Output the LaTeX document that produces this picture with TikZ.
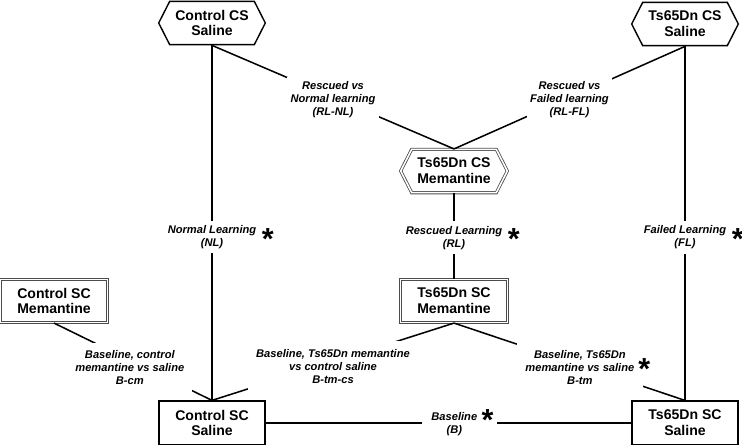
\documentclass[tikz,border=0pt]{standalone}
\usepackage{fontspec}
\setmainfont{Liberation Sans}
\usetikzlibrary{positioning, shapes.symbols}

\tikzset{
  grp/.style={align=center, font=\fontsize{12}{13.5}\selectfont\bfseries,
    minimum width=3.2cm, minimum height=1.3cm, inner sep=1pt},
  hexbox/.style={grp, shape=signal, signal to=east and west,
    signal pointer angle=126, draw, line width=1.2pt},
  hexdbl/.style={grp, shape=signal, signal to=east and west,
    signal pointer angle=126, draw=black!70, line width=0.7pt,
    double, double distance=1.3pt},
  plainbox/.style={grp, rectangle, draw, line width=1.6pt},
  dblbox/.style={grp, rectangle, draw=black!70, line width=0.7pt,
    double, double distance=1.3pt},
  conn/.style={line width=1.3pt},
  lbl/.style={fill=white, align=center, inner xsep=3pt, inner ysep=4pt,
    font=\fontsize{9.5}{11}\selectfont\bfseries\itshape},
  widelbl/.style={lbl, inner sep=7pt},
  sigmark/.style={font=\fontsize{26}{26}\selectfont\bfseries, inner sep=0pt,
    yshift=-1.5pt}
}

\begin{document}
\begin{tikzpicture}[x=0.03cm, y=-0.03cm]
  \useasboundingbox (0,0) rectangle (742,445);
  % conditioned groups
  \node[hexbox] (ctrlCS) at (212,23) {Control CS\\Saline};
  \node[hexbox] (tsCS) at (685,24) {Ts65Dn CS\\Saline};
  \node[hexdbl] (tsCSmem) at (454,171) {Ts65Dn CS\\Memantine};
  % memantine controls
  \node[dblbox] (ctrlSCmem) at (54,301) {Control SC\\Memantine};
  \node[dblbox] (tsSCmem) at (454,301) {Ts65Dn SC\\Memantine};
  % saline controls
  \node[plainbox] (ctrlSC) at (212,423) {Control SC\\Saline};
  \node[plainbox] (tsSC) at (685,423) {Ts65Dn SC\\Saline};

  % learning comparisons
  \draw[conn] (ctrlCS.south) -- node[lbl, pos=0.54] (nl) {Normal Learning\\(NL)} (ctrlSC.north);
  \draw[conn] (tsCSmem.south) -- node[lbl, pos=0.52] (rl) {Rescued Learning\\(RL)} (tsSCmem.north);
  \draw[conn] (tsCS.south) -- node[lbl, pos=0.54] (fl) {Failed Learning\\(FL)} (tsSC.north);
  \draw[conn] (ctrlCS.south) -- node[lbl, midway, yshift=-2pt] (rlnl) {Rescued vs\\Normal learning\\(RL-NL)} (tsCSmem.north);
  \draw[conn] (tsCS.south) -- node[lbl, midway, yshift=-2pt] (rlfl) {Rescued vs\\Failed learning\\(RL-FL)} (tsCSmem.north);

  % baseline comparisons
  \draw[conn] (ctrlSCmem.south) -- node[widelbl, pos=0.48, yshift=-6.5pt] (bcm) {Baseline, control\\memantine vs saline\\B-cm} (ctrlSC.north);
  \draw[conn] (tsSCmem.south) -- node[widelbl, midway, yshift=-4pt] (btmcs) {Baseline, Ts65Dn memantine\\vs control saline\\B-tm-cs} (ctrlSC.north);
  \draw[conn] (tsSCmem.south) -- node[widelbl, pos=0.545, yshift=-2pt] (btm) {Baseline, Ts65Dn\\memantine vs saline\\B-tm} (tsSC.north);
  \draw[conn] (ctrlSC.east) -- node[lbl, pos=0.516, inner xsep=8pt, yshift=-1pt] (bl) {Baseline\\(B)} (tsSC.west);

  % significant differences
  \node[sigmark, right=1pt of nl.east] (nlsig) {*};
  \node[sigmark, right=1pt of rl.east] (rlsig) {*};
  \node[sigmark, right=1pt of fl.east] (flsig) {*};
  \node[sigmark, right=-4.5pt of btm.east] (btmsig) {*};
  \node[sigmark, fill=white, inner xsep=3pt, right=-8pt of bl.east, yshift=5pt] (blsig) {*};
\end{tikzpicture}
\end{document}
